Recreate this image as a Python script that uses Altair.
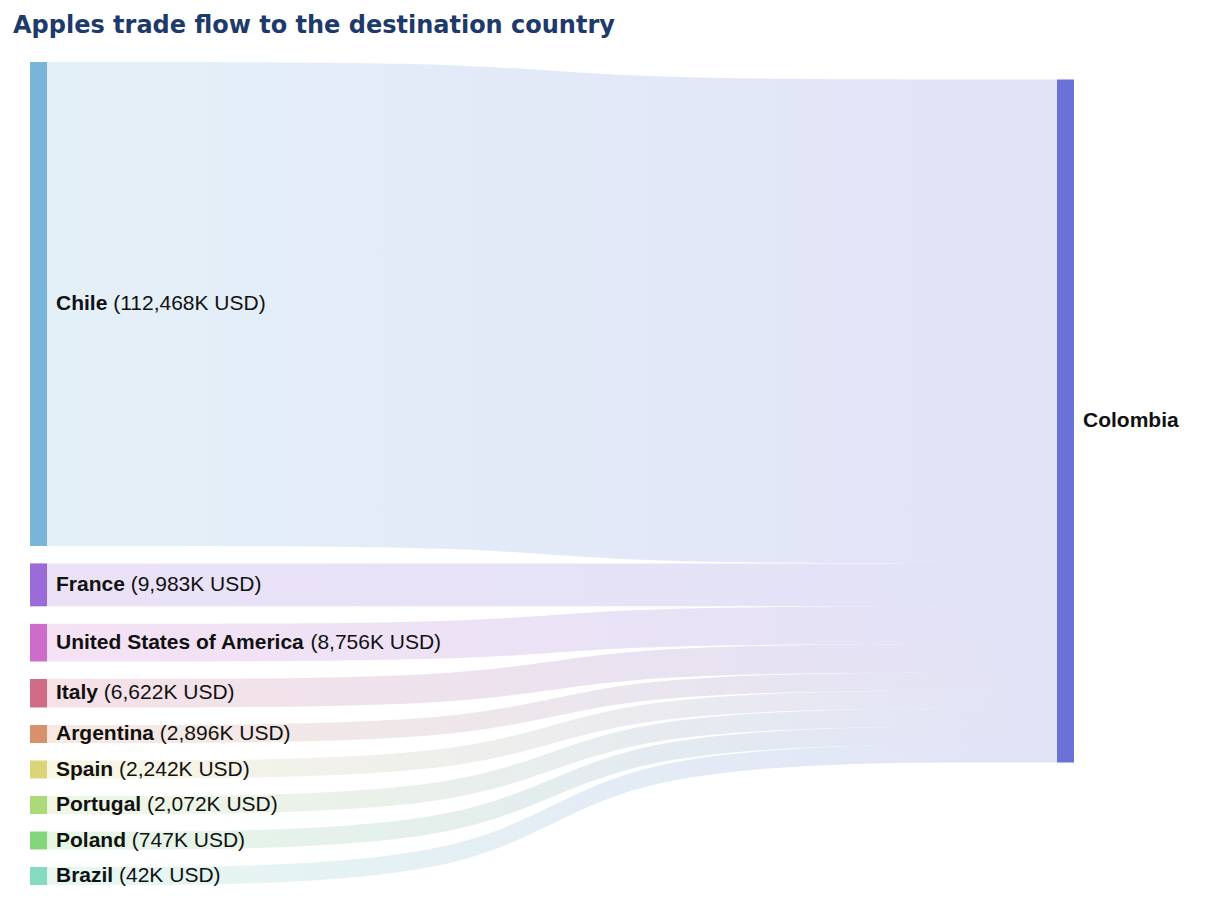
import altair as alt
import pandas as pd

# ---------------- data ----------------
TITLE = "Apples trade flow to the destination country"
sources = ["Chile", "France", "United States of America", "Italy", "Argentina",
           "Spain", "Portugal", "Poland", "Brazil"]
values_k = [112468, 9983, 8756, 6622, 2896, 2242, 2072, 747, 42]
target = "Colombia"
source_colors = ["#79b5da", "#9b6bd9", "#cd6cc9", "#d06b85", "#d8916d",
                 "#dcd479", "#acd97a", "#84d67d", "#85dbbf"]
target_color = "#6a72d7"

# ---------------- layout parameters (pixels) ----------------
PLOT_W, PLOT_H = 1044, 823
NODE_W_PX = 17
NODE_GAP_PX = 17.5
NODE_MIN_PX = 18
LABEL_PAD_PX = 9
LABEL_SIZE = 21
LINK_OPACITY = 0.2
CURVE_CTRL = 0.45   # spline control point position (fraction of link length)

# Helvetica/Arial Bold advance widths (1/1000 em) -> Liberation Sans Bold
BOLD_W = dict(zip("ABCDEFGHIJKLMNOPQRSTUVWXYZ",
                  [722, 722, 722, 722, 667, 611, 778, 722, 278, 556, 722, 611, 833,
                   722, 778, 667, 778, 722, 667, 611, 722, 667, 944, 667, 667, 611]))
BOLD_W.update(dict(zip("abcdefghijklmnopqrstuvwxyz",
                       [556, 611, 556, 611, 556, 333, 611, 611, 278, 278, 556, 278, 889,
                        611, 611, 611, 611, 389, 556, 333, 611, 556, 778, 556, 556, 500])))
BOLD_W[" "] = 278


def bold_width_px(s):
    return sum(BOLD_W.get(ch, 600) for ch in s) * LABEL_SIZE / 1000.0


# ---------------- sankey layout ----------------
n = len(values_k)
small = set()
while True:
    large_sum = sum(v for i, v in enumerate(values_k) if i not in small)
    ky = (PLOT_H - (n - 1) * NODE_GAP_PX - len(small) * NODE_MIN_PX) / large_sum
    new_small = {i for i, v in enumerate(values_k) if v * ky < NODE_MIN_PX}
    if new_small == small:
        break
    small = new_small

u_per_px = 1.0 / ky
total_units = PLOT_H * u_per_px
node_w = NODE_W_PX / PLOT_W
xs = node_w
xt = 1 - node_w
link_len = xt - xs
xc1 = xs + CURVE_CTRL * link_len
xc2 = xt - CURVE_CTRL * link_len

node_rows, link_rows, label_rows = [], [], []
cur = 0.0
t0 = NODE_GAP_PX * u_per_px
tcur = t0
for i, (name, v, col) in enumerate(zip(sources, values_k, source_colors)):
    h = max(v, NODE_MIN_PX * u_per_px)
    y0, y1 = cur, cur + h
    node_rows.append(dict(name=name, x0=0.0, x1=node_w, y0=y0, y1=y1, color=col))
    ty0, ty1 = tcur, tcur + h
    for xx, a, b in [(xs, y0, y1), (xc1, y0, y1), (xc2, ty0, ty1), (xt, ty0, ty1)]:
        link_rows.append(dict(source=name, lx=xx, ly0=a, ly1=b))
    lx = node_w + LABEL_PAD_PX / PLOT_W
    label_rows.append(dict(name=name, x=lx, y=(y0 + y1) / 2,
                           value=f"({v:,}K USD)",
                           xv=lx + bold_width_px(name + " ") / PLOT_W))
    cur = y1 + NODE_GAP_PX * u_per_px
    tcur = ty1

node_rows.append(dict(name=target, x0=xt, x1=1.0, y0=t0, y1=tcur, color=target_color))
target_label = pd.DataFrame([dict(name=target, x=1.0 + LABEL_PAD_PX / PLOT_W, y=(t0 + tcur) / 2)])

nodes = pd.DataFrame(node_rows)
links = pd.DataFrame(link_rows)
labels = pd.DataFrame(label_rows)

xscale = alt.Scale(domain=[0, 1], nice=False, zero=False)
yscale = alt.Scale(domain=[0, total_units], nice=False, zero=False, reverse=True)


def X(f):
    return alt.X(f, type="quantitative", scale=xscale, axis=None)


def Y(f):
    return alt.Y(f, type="quantitative", scale=yscale, axis=None)


layers = []
for name, col in zip(sources, source_colors):
    grad = alt.Gradient(gradient="linear",
                        stops=[alt.GradientStop(color=col, offset=0),
                               alt.GradientStop(color=target_color, offset=1)],
                        x1=0, x2=1, y1=0, y2=0)
    layers.append(
        alt.Chart(links[links["source"] == name])
        .mark_area(color=grad, opacity=LINK_OPACITY, interpolate="basis")
        .encode(x=X("lx"), y=Y("ly0"), y2="ly1")
    )

rects = alt.Chart(nodes).mark_rect().encode(
    x=X("x0"), x2="x1", y=Y("y0"), y2="y1",
    color=alt.Color("color:N", scale=None),
)

name_text = alt.Chart(labels).mark_text(
    align="left", baseline="middle", font="Liberation Sans",
    fontSize=LABEL_SIZE, fontWeight="bold", color="#111111",
).encode(x=X("x"), y=Y("y"), text="name:N")

value_text = alt.Chart(labels).mark_text(
    align="left", baseline="middle", font="Liberation Sans",
    fontSize=LABEL_SIZE, fontWeight="normal", color="#111111",
).encode(x=X("xv"), y=Y("y"), text="value:N")

target_text = alt.Chart(target_label).mark_text(
    align="left", baseline="middle", font="Liberation Sans",
    fontSize=LABEL_SIZE, fontWeight="bold", color="#111111",
).encode(x=X("x"), y=Y("y"), text="name:N")

chart = alt.layer(*layers, rects, name_text, value_text, target_text).properties(
    width=PLOT_W, height=PLOT_H,
    title=alt.TitleParams(TITLE, anchor="start", frame="group", font="DejaVu Sans",
                          fontSize=24, fontWeight="bold", color="#1d3a6b",
                          dx=-17, offset=24),
    padding={"left": 30, "top": 62, "right": 146, "bottom": 17},
    autosize=alt.AutoSizeParams(type="none"),
).configure_view(strokeWidth=0)

chart.save("out.html", embed_options={"renderer": "svg", "actions": False})
